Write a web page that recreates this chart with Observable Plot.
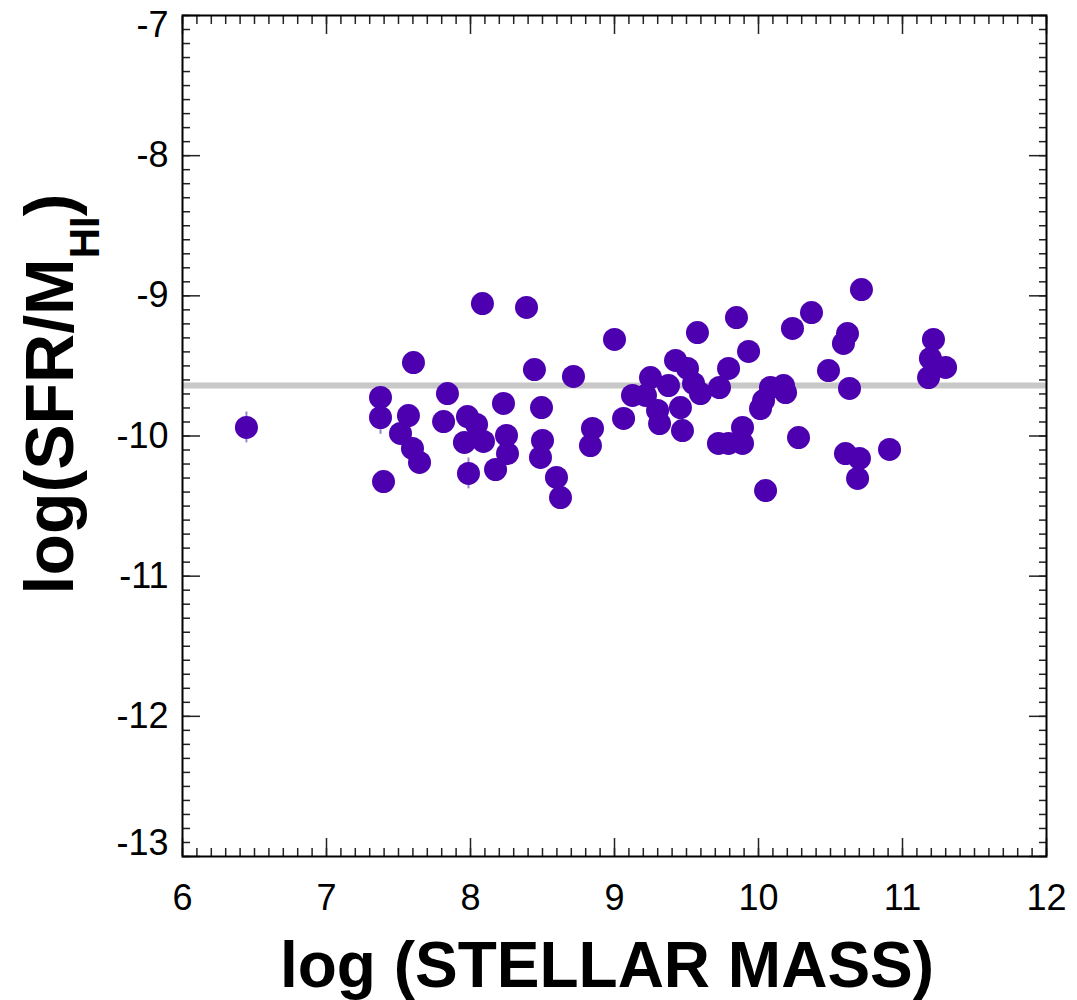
<!DOCTYPE html>
<html>
<head>
<meta charset="utf-8">
<script src="https://cdn.jsdelivr.net/npm/d3@7"></script>
<script src="https://cdn.jsdelivr.net/npm/@observablehq/plot@0.6"></script>
<style>
  html, body { margin: 0; padding: 0; background: #fff; }
  svg { display: block; }
</style>
</head>
<body>
<div id="chart"></div>
<script>
// ---- data ----
const stellarMass = [
  6.444, 7.375, 7.375, 7.569, 7.514, 7.597, 7.646, 7.396, 7.604, 7.840,
  7.813, 7.979, 8.042, 7.958, 8.090, 7.986, 8.229, 8.250, 8.257, 8.174,
  8.083, 8.389, 8.444, 8.715, 8.493, 8.500, 8.486, 8.597, 8.625, 8.847,
  8.833, 9.000, 9.063, 9.125, 9.250, 9.299, 9.313, 9.424, 9.507, 9.458,
  9.472, 9.549, 9.576, 9.215, 9.375, 9.597, 9.847, 9.931, 9.792, 9.729,
  9.722, 9.792, 9.889, 9.889, 10.014, 10.035, 10.083, 10.174, 10.188, 10.049,
  10.278, 10.236, 10.368, 10.618, 10.590, 10.486, 10.632, 10.715, 10.910, 10.604,
  10.701, 10.688, 11.215, 11.194, 11.299, 11.181
];
const sfrPerHI = [
  -9.939, -9.725, -9.868, -9.854, -9.982, -10.089, -10.189, -10.325, -9.476, -9.697,
  -9.897, -9.861, -9.918, -10.046, -10.039, -10.267, -9.768, -9.996, -10.125, -10.239,
  -9.055, -9.083, -9.526, -9.575, -9.797, -10.032, -10.153, -10.296, -10.439, -9.946,
  -10.068, -9.311, -9.875, -9.711, -9.583, -9.818, -9.911, -9.461, -9.518, -9.797,
  -9.961, -9.625, -9.262, -9.711, -9.640, -9.697, -9.155, -9.397, -9.518, -9.654,
  -10.053, -10.053, -9.939, -10.053, -9.804, -9.747, -9.654, -9.640, -9.690, -10.389,
  -10.011, -9.233, -9.119, -9.269, -9.340, -9.533, -9.661, -8.955, -10.096, -10.125,
  -10.160, -10.303, -9.311, -9.447, -9.511, -9.583
];
// small vertical error bars visible behind a few points
const errX = [6.444, 7.375, 7.986];
const errY = [-9.939, -9.868, -10.267];
const errSize = [0.11, 0.12, 0.11];

const meanLine = [-9.64];

const xTicks = [6, 7, 8, 9, 10, 11, 12];
const yTicks = [-13, -12, -11, -10, -9, -8, -7];
const yTicksInner = [-12, -11, -10, -9, -8];
const yTickTop = [-7];
const yTickBottom = [-13];
const xMinor = d3.range(60, 121).map(d => d / 10);
const yMinor = d3.range(-130, -69).map(d => d / 10);

const xTitle = "log (STELLAR MASS)";
const yTitleMain = "log(SFR/M";
const yTitleSub = "HI";
const yTitleEnd = ")";

// ---- build ----
const points = stellarMass.map((x, i) => ({x, y: sfrPerHI[i]}));
const errs = errX.map((x, i) => ({x, y: errY[i], e: errSize[i]}));

const W = 1077, H = 1000;
const mL = 182, mR = 31, mT = 15, mB = 144;
const tickColor = "#222";
const none = () => "";
const tickStyle = {tickFormat: none, label: null, stroke: tickColor, strokeWidth: 1.5};
const labelStyle = {tickSize: 0, fontSize: 36, fill: "#000", label: null, tickFormat: d => String(d)};

const plot = Plot.plot({
  width: W,
  height: H,
  marginLeft: mL,
  marginRight: mR,
  marginTop: mT,
  marginBottom: mB,
  style: {fontFamily: "'Liberation Sans', Arial, Helvetica, sans-serif", background: "#fff", color: "#000"},
  x: {domain: [6, 12], axis: null},
  y: {domain: [-13, -7], axis: null},
  marks: [
    Plot.ruleY(meanLine, {stroke: "#c8c8c8", strokeWidth: 6}),
    Plot.ruleX(errs, {x: "x", y1: d => d.y - d.e, y2: d => d.y + d.e, stroke: "#9b80d6", strokeWidth: 2}),
    Plot.dot(points, {x: "x", y: "y", r: 11.5, fill: "#4c00b0", stroke: "none"}),
    // minor ticks (inward) on all four sides
    Plot.axisX(xMinor, {anchor: "bottom", tickSize: -8, ...tickStyle}),
    Plot.axisX(xMinor, {anchor: "top", tickSize: -8, ...tickStyle}),
    Plot.axisY(yMinor, {anchor: "left", tickSize: -8, ...tickStyle}),
    Plot.axisY(yMinor, {anchor: "right", tickSize: -8, ...tickStyle}),
    // major ticks (inward)
    Plot.axisX(xTicks, {anchor: "bottom", tickSize: -18, ...tickStyle}),
    Plot.axisX(xTicks, {anchor: "top", tickSize: -18, ...tickStyle}),
    Plot.axisY(yTicks, {anchor: "left", tickSize: -18, ...tickStyle}),
    Plot.axisY(yTicks, {anchor: "right", tickSize: -18, ...tickStyle}),
    // labels
    Plot.axisX(xTicks, {anchor: "bottom", tickPadding: 28, ...labelStyle}),
    Plot.axisY(yTicksInner, {anchor: "left", tickPadding: 14, ...labelStyle}),
    Plot.axisY(yTickTop, {anchor: "left", tickPadding: 14, dy: 10, ...labelStyle}),
    Plot.axisY(yTickBottom, {anchor: "left", tickPadding: 14, dy: -13, ...labelStyle}),
    Plot.frame({stroke: "#000", strokeWidth: 2})
  ]
});

const svg = d3.select(plot);
svg.append("text")
  .attr("x", 607)
  .attr("y", 987)
  .attr("text-anchor", "middle")
  .attr("font-size", 64)
  .attr("font-weight", "bold")
  .attr("fill", "#000")
  .text(xTitle);

const yt = svg.append("text")
  .attr("transform", "translate(73,394) rotate(-90)")
  .attr("text-anchor", "middle")
  .attr("font-size", 68)
  .attr("font-weight", "bold")
  .attr("fill", "#000");
yt.append("tspan").text(yTitleMain);
yt.append("tspan").attr("font-size", 42).attr("dy", 26).text(yTitleSub);
yt.append("tspan").attr("dy", -26).text(yTitleEnd);

document.getElementById("chart").appendChild(plot);
</script>
</body>
</html>
